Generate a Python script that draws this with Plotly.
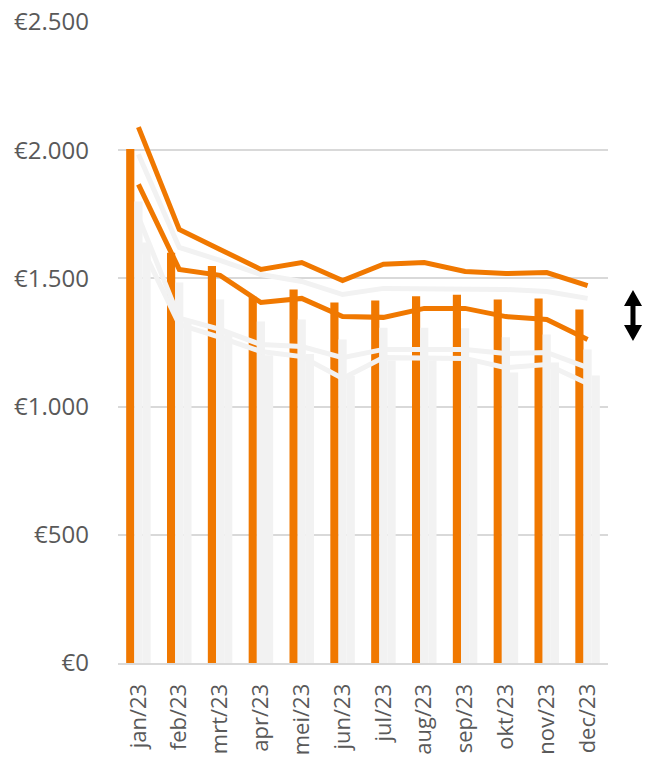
import plotly.graph_objects as go

# Categories
months = ["jan/23", "feb/23", "mrt/23", "apr/23", "mei/23", "jun/23",
          "jul/23", "aug/23", "sep/23", "okt/23", "nov/23", "dec/23"]

# Column series (EUR)
orange_bars = [2005, 1600, 1548, 1428, 1457, 1406, 1414, 1430, 1436, 1418, 1422, 1379]
grey_bars_a = [1800, 1484, 1418, 1332, 1340, 1262, 1308, 1308, 1306, 1270, 1281, 1223]
grey_bars_b = [1640, 1330, 1290, 1200, 1205, 1120, 1180, 1180, 1175, 1133, 1172, 1121]

# Line series (EUR)
orange_high = [2090, 1691, 1613, 1535, 1562, 1492, 1555, 1562, 1527, 1519, 1523, 1472]
orange_mid = [1867, 1535, 1512, 1406, 1422, 1351, 1348, 1383, 1383, 1351, 1340, 1262]
grey_high = [1984, 1621, 1570, 1515, 1488, 1437, 1461, 1461, 1459, 1457, 1449, 1422]
grey_mid = [1740, 1345, 1301, 1242, 1234, 1191, 1223, 1223, 1223, 1207, 1211, 1152]
grey_low = [1650, 1320, 1270, 1215, 1195, 1110, 1191, 1191, 1188, 1152, 1164, 1090]

# Y-axis ticks
y_tick_vals = [0, 500, 1000, 1500, 2000, 2500]
y_tick_text = ["€0", "€500", "€1.000", "€1.500", "€2.000", "€2.500"]

ORANGE = "#F07800"
LIGHT = "#F2F2F2"
GRID = "#D9D9D9"
TEXT = "#595959"

fig = go.Figure()

for vals, col in [(orange_bars, ORANGE), (grey_bars_a, LIGHT), (grey_bars_b, LIGHT)]:
    fig.add_trace(go.Bar(x=months, y=vals, marker=dict(color=col, line=dict(width=0)),
                         showlegend=False, hoverinfo="x+y"))

for vals, col in [(grey_low, LIGHT), (grey_mid, LIGHT), (grey_high, LIGHT),
                  (orange_mid, ORANGE), (orange_high, ORANGE)]:
    fig.add_trace(go.Scatter(x=months, y=vals, mode="lines",
                             line=dict(color=col, width=5), showlegend=False))

# Double-headed arrow to the right of the plot area (paper coordinates)
def px_to_paper(px, py):
    return (px - 118) / 490, (663 - py) / 641

pts = [(633, 290), (642, 306), (635.5, 306), (635.5, 325), (642, 325), (633, 341),
       (624, 325), (630.5, 325), (630.5, 306), (624, 306)]
path = "M " + " L ".join(f"{px_to_paper(x, y)[0]:.4f},{px_to_paper(x, y)[1]:.4f}" for x, y in pts) + " Z"
fig.add_shape(type="path", path=path, xref="paper", yref="paper",
              fillcolor="black", line=dict(color="black", width=0))

fig.update_layout(
    width=646, height=757,
    margin=dict(l=118, r=38, t=22, b=94),
    paper_bgcolor="white", plot_bgcolor="white",
    barmode="group", bargap=0.4, bargroupgap=0,
    font=dict(family="Open Sans", size=22, color=TEXT),
)
fig.update_yaxes(
    range=[0, 2500], tickvals=y_tick_vals, ticktext=y_tick_text,
    tickfont=dict(size=24),
    showgrid=True, gridcolor=GRID, gridwidth=1.5, zeroline=False,
    ticks="", ticklabelstandoff=28, showline=False, automargin=False,
)
fig.update_xaxes(
    tickangle=-90, showgrid=False, showline=True, linecolor=GRID, linewidth=2,
    ticks="", ticklabelstandoff=10, automargin=False,
)

fig.write_html("out.html")
